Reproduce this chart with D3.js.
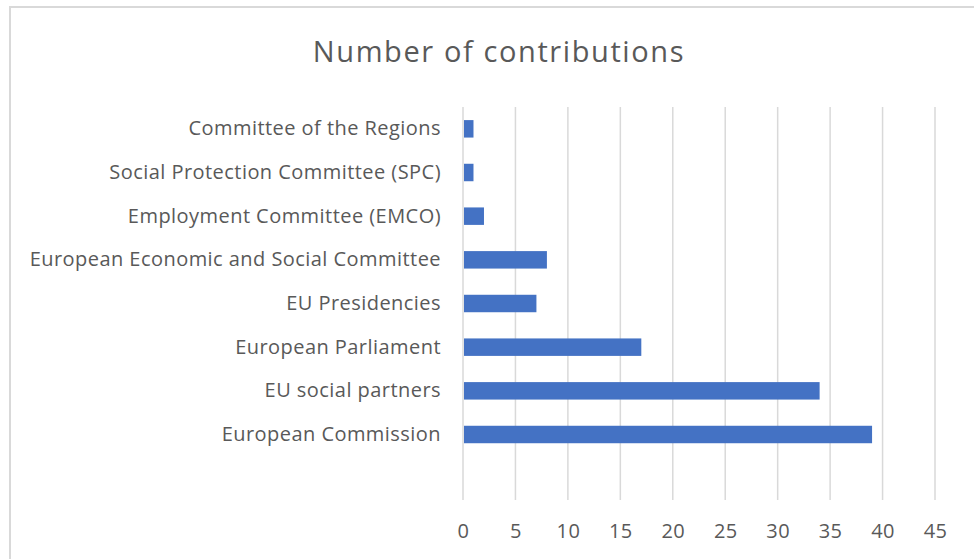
<!DOCTYPE html>
<html>
<head>
<meta charset="utf-8">
<script src="https://cdn.jsdelivr.net/npm/d3@7"></script>
<style>
  body { margin: 0; background: #fff; }
  svg { display: block; font-family: "Open Sans", "Noto Sans", sans-serif; }
</style>
</head>
<body>
<div id="bar_chart"></div>
<script>
// categories listed from top to bottom, as in the picture
var categories = [
  "Committee of the Regions",
  "Social Protection Committee (SPC)",
  "Employment Committee (EMCO)",
  "European Economic and Social Committee",
  "EU Presidencies",
  "European Parliament",
  "EU social partners",
  "European Commission"
];
var contributions = [1, 1, 2, 8, 7, 17, 34, 39];
var xTicks = [0, 5, 10, 15, 20, 25, 30, 35, 40, 45];
var title = "Number of contributions";

var W = 974, H = 559;
var margin = { top: 107, right: 39, bottom: 59, left: 463 },
  width = W - margin.left - margin.right,
  height = H - margin.top - margin.bottom;

var svg = d3.select("#bar_chart")
  .append("svg")
  .attr("width", W)
  .attr("height", H);

// chart frame (runs off the right and bottom edges)
svg.append("rect")
  .attr("x", 10)
  .attr("y", 7)
  .attr("width", W)
  .attr("height", H)
  .attr("fill", "#fff")
  .attr("stroke", "#d9d9d9")
  .attr("stroke-width", 2);

svg.append("text")
  .attr("x", 499)
  .attr("y", 62)
  .attr("text-anchor", "middle")
  .attr("font-size", 29)
  .attr("letter-spacing", 1.6)
  .attr("fill", "#595959")
  .text(title);

var g = svg.append("g")
  .attr("transform", "translate(" + margin.left + "," + margin.top + ")");

var data = categories.map(function (c, i) {
  return { name: c, value: contributions[i] };
});

var x = d3.scaleLinear()
  .domain([0, 45])
  .range([0, width]);

// one empty slot is left at the bottom of the plot
var step = height / (categories.length + 1);
var y = d3.scaleBand()
  .domain(categories)
  .range([0, step * categories.length])
  .paddingInner(0.6)
  .paddingOuter(0.3);

// vertical gridlines
g.append("g")
  .selectAll("line")
  .data(xTicks)
  .join("line")
  .attr("x1", d => x(d))
  .attr("x2", d => x(d))
  .attr("y1", 0)
  .attr("y2", height)
  .attr("stroke", "#d9d9d9")
  .attr("stroke-width", 1.5);

g.append("g")
  .selectAll("rect")
  .data(data)
  .join("rect")
  .attr("x", x(0) + 1)
  .attr("y", d => y(d.name))
  .attr("width", d => x(d.value) - x(0) - 1)
  .attr("height", y.bandwidth())
  .attr("fill", "#4472c4");

// category labels
var yAxis = g.append("g")
  .call(d3.axisLeft(y).tickSize(0).tickPadding(22));
yAxis.select(".domain").remove();
yAxis.selectAll("text")
  .attr("font-size", 20)
  .attr("letter-spacing", 0.45)
  .attr("font-family", "\"Open Sans\", sans-serif")
  .attr("fill", "#595959");

// value axis labels
var xAxis = g.append("g")
  .attr("transform", "translate(0," + height + ")")
  .call(d3.axisBottom(x).tickValues(xTicks).tickSize(0).tickPadding(24));
xAxis.select(".domain").remove();
xAxis.selectAll("text")
  .attr("font-size", 20)
  .attr("letter-spacing", 0.4)
  .attr("font-family", "\"Open Sans\", sans-serif")
  .attr("fill", "#595959");
</script>
</body>
</html>
